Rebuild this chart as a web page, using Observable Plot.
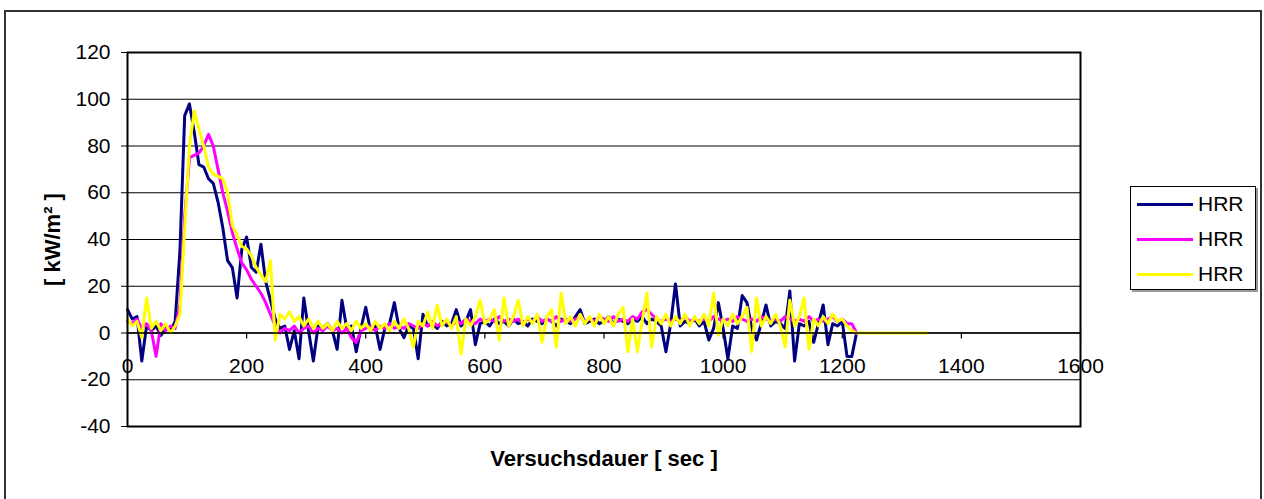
<!DOCTYPE html>
<html>
<head>
<meta charset="utf-8">
<script src="https://cdn.jsdelivr.net/npm/d3@7"></script>
<script src="https://cdn.jsdelivr.net/npm/@observablehq/plot@0.6"></script>
<style>
  html, body { margin: 0; padding: 0; background: #fff; }
  #wrap { position: relative; width: 1264px; height: 499px; overflow: hidden; font-family: Arial, "Liberation Sans", sans-serif; }
  #outer { position: absolute; left: 4px; top: 10px; width: 1258px; height: 500px; border-left: 2px solid #333; border-top: 2px solid #333; border-right: 2px solid #333; box-sizing: border-box; pointer-events: none; }
  #legend { position: absolute; left: 1130px; top: 186px; width: 126px; height: 104px; box-sizing: border-box; border: 1.5px solid #000; box-shadow: 2px 2px 0 #999; background: #fff; }
  .item { position: absolute; left: 6px; height: 22px; display: flex; align-items: center; }
  .swatch { width: 56px; height: 3px; margin-right: 5px; }
  .lbl { font-size: 21px; color: #000; line-height: 22px; }
</style>
</head>
<body>
<div id="wrap">
  <div id="chart"></div>
  <div id="outer"></div>
  <div id="legend"></div>
</div>
<script>
// ---- data ----
const seconds = [0,8,16,24,32,40,48,56,64,72,80,88,96,104,112,120,128,136,144,152,160,168,176,184,192,200,208,216,224,232,240,248,256,264,272,280,288,296,304,312,320,328,336,344,352,360,368,376,384,392,400,408,416,424,432,440,448,456,464,472,480,488,496,504,512,520,528,536,544,552,560,568,576,584,592,600,608,616,624,632,640,648,656,664,672,680,688,696,704,712,720,728,736,744,752,760,768,776,784,792,800,808,816,824,832,840,848,856,864,872,880,888,896,904,912,920,928,936,944,952,960,968,976,984,992,1000,1008,1016,1024,1032,1040,1048,1056,1064,1072,1080,1088,1096,1104,1112,1120,1128,1136,1144,1152,1160,1168,1176,1184,1192,1200,1208,1216,1224,1343];

const hrrBlue = [10,6,7,-12,3,1,3,-1,2,1,5,35,93,98,86,72,71,66,64,56,45,31,28,15,36,41,28,26,38,22,14,6,2,3,-7,1,-11,15,1,-12,3,2,4,1,-7,14,2,3,-8,2,11,1,3,-7,2,4,13,2,-2,3,2,-11,8,3,4,2,5,3,4,10,3,5,10,-5,4,5,3,6,4,5,3,6,4,5,3,6,5,4,6,5,3,6,5,4,7,10,4,5,6,4,5,7,4,6,5,4,6,5,7,4,6,5,3,-8,4,21,3,5,4,6,3,5,-3,2,13,2,-11,3,2,16,13,2,-3,4,12,3,5,4,2,18,-12,4,3,5,-4,4,12,-5,4,3,5,-10,-10,0];

const hrrPink = [5,4,6,2,4,1,-10,4,1,3,2,12,50,75,76,77,80,85,80,70,60,52,43,36,30,27,23,20,17,13,8,3,0,2,1,3,0,2,3,0,2,1,3,1,2,0,2,-2,-4,1,2,3,1,3,2,4,2,3,2,4,3,2,4,3,5,3,4,5,3,5,4,6,5,4,6,5,6,5,7,5,6,5,6,4,6,5,7,5,6,5,7,5,6,5,6,7,5,6,5,7,6,5,7,5,6,5,7,6,9,10,8,6,5,6,5,6,5,7,5,6,5,6,5,7,6,5,6,5,7,6,5,6,5,7,6,5,6,5,7,6,5,6,5,7,5,6,5,6,7,5,6,4,4,0];

const hrrYellow = [6,3,5,-2,15,2,5,1,4,0,3,8,45,80,95,87,80,71,68,67,66,60,46,42,37,36,33,28,25,22,31,-3,8,6,9,5,7,3,6,2,5,2,4,1,5,2,4,1,5,2,4,1,5,2,4,1,5,2,6,2,-6,5,3,9,2,12,3,6,2,7,-9,6,3,7,14,4,6,10,-3,15,3,7,14,3,7,4,8,-4,7,10,-6,17,4,7,3,8,4,7,3,8,4,7,3,8,11,-8,6,-8,5,17,-6,7,4,8,3,7,4,8,3,7,4,8,3,17,-1,6,3,8,4,7,11,-8,15,3,7,4,8,3,-6,14,3,7,15,-7,6,3,7,4,8,5,6,3,1,0,0];

const seriesNames = ["HRR", "HRR", "HRR"];
const seriesColors = ["#000080", "#ff00ff", "#ffff00"];
const yTicks = [-40,-20,0,20,40,60,80,100,120];
const xTicks = [0,200,400,600,800,1000,1200,1400,1600];

// ---- build rows ----
function rows(values) {
  const out = [];
  values.forEach((v, i) => out.push({t: seconds[i], v}));
  return out;
}
const blueRows = rows(hrrBlue);
const pinkRows = rows(hrrPink);
const yellowRows = rows(hrrYellow);
const yMid = (yTicks[0] + yTicks[yTicks.length - 1]) / 2;

const chart = Plot.plot({
  width: 1264,
  height: 499,
  marginLeft: 127,
  marginRight: 184,
  marginTop: 52,
  marginBottom: 73,
  style: {fontFamily: 'Arial, "Liberation Sans", sans-serif', fontSize: "21px", background: "transparent", overflow: "visible"},
  x: {domain: [0, 1600], axis: null},
  y: {domain: [-40, 120], axis: null},
  marks: [
    Plot.ruleY(yTicks, {y: d => d, stroke: "#000", strokeWidth: 1}),
    Plot.axisY({ticks: yTicks, tickSize: 6, tickPadding: 11, tickFormat: d => String(d), label: null, fontSize: 21, stroke: "#000"}),
    Plot.line(blueRows, {x: "t", y: "v", stroke: seriesColors[0], strokeWidth: 3, strokeLinejoin: "round"}),
    Plot.line(pinkRows, {x: "t", y: "v", stroke: seriesColors[1], strokeWidth: 3, strokeLinejoin: "round"}),
    Plot.line(yellowRows, {x: "t", y: "v", stroke: seriesColors[2], strokeWidth: 3, strokeLinejoin: "round"}),
    Plot.ruleY([0], {stroke: "#000", strokeWidth: 1.5}),
    Plot.ruleX(xTicks, {x: d => d, y1: 0, y2: -2.6, stroke: "#000", strokeWidth: 1.2}),
    Plot.text(xTicks, {x: d => d, y: 0, dy: 33, text: d => String(d), fontSize: 21, fill: "#000"}),
    Plot.frame({stroke: "#000", strokeWidth: 2}),
    Plot.text(["[ kW/m² ]"], {x: () => 0, y: () => yMid, dx: -75, rotate: -90, fontWeight: "bold", fontSize: 22, fill: "#000"}),
    Plot.text(["Versuchsdauer [ sec ]"], {frameAnchor: "bottom", dy: 39, fontWeight: "bold", fontSize: 22, fill: "#000"})
  ]
});
document.getElementById("chart").appendChild(chart);

// ---- legend ----
const legend = document.getElementById("legend");
seriesNames.forEach((name, i) => {
  const item = document.createElement("div");
  item.className = "item";
  item.style.top = (6 + i * 35) + "px";
  const sw = document.createElement("div");
  sw.className = "swatch";
  sw.style.background = seriesColors[i];
  const lb = document.createElement("span");
  lb.className = "lbl";
  lb.textContent = name;
  item.appendChild(sw);
  item.appendChild(lb);
  legend.appendChild(item);
});
</script>
</body>
</html>
